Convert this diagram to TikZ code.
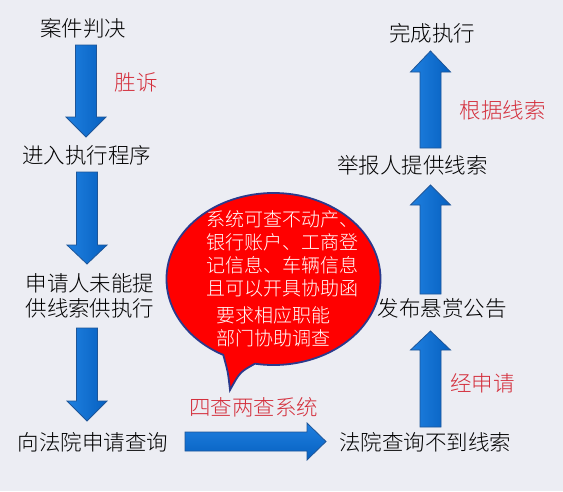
\documentclass[tikz,border=0pt]{standalone}
\usepackage{fontspec}
\usetikzlibrary{calc}
\newfontfamily\cjk{Noto Sans CJK SC Light}
\definecolor{bgc}{HTML}{ECEDF3}
\definecolor{lblred}{HTML}{D42F3C}
\definecolor{arrowA}{HTML}{1F80E0}
\definecolor{arrowB}{HTML}{0660C0}
\definecolor{arrowline}{HTML}{1D5598}
\definecolor{bubred}{HTML}{FF0000}
\definecolor{bubline}{HTML}{2B3A8C}
\tikzset{
  txt/.style={inner sep=0pt, font=\cjk\fontsize{21.5}{25}\selectfont, text=black, align=center},
  lbl/.style={inner sep=0pt, font=\cjk\fontsize{21.5}{25}\selectfont, text=lblred},
  bubtxt/.style={inner sep=0pt, font=\cjk\fontsize{19}{22.8}\selectfont, text=white, align=center},
  vblock/.style={draw=arrowline, line width=0.8pt, left color=arrowA, right color=arrowB},
  hblock/.style={draw=arrowline, line width=0.8pt, top color=arrowA, bottom color=arrowB},
  bubble/.style={draw=bubline, line width=1.8pt, fill=bubred}
}
% vertical block arrow: x, base y, wing y, tip y
\newcommand\myvarrow[4]{%
  \path[vblock] (#1-10.5,#2) -- (#1+10.5,#2) -- (#1+10.5,#3) -- (#1+20,#3) -- (#1,#4)
    -- (#1-20,#3) -- (#1-10.5,#3) -- cycle;}
\begin{document}
\begin{tikzpicture}[x=1pt,y=-1pt]
\useasboundingbox (0,0) rectangle (563,491);
\fill[bgc] (0,0) rectangle (563,491);

% left column
\node[txt] (n1) at (83.5,28) {案件判决};
\node[txt] (n2) at (87,155) {进入执行程序};
\node[txt] (n3) at (90,295.5) {申请人未能提\\供线索供执行};
\node[txt] (n4) at (93,442) {向法院申请查询};
% right column
\node[txt] (n5) at (425,442) {法院查询不到线索};
\node[txt] (n6) at (442,308) {发布悬赏公告};
\node[txt] (n7) at (412.5,165) {举报人提供线索};
\node[txt] (n8) at (432,33) {完成执行};

% red labels
\node[lbl] (l1) at (136,82) {胜诉};
\node[lbl] (l2) at (502.5,110) {根据线索};
\node[lbl] (l3) at (482.5,383) {经申请};
\node[lbl] (l4) at (253.5,407) {四查两查系统};

% block arrows
\myvarrow{86}{45}{117}{137}
\myvarrow{87}{172}{245}{264}
\myvarrow{87}{328}{401}{421}
\path[hblock] (185,432) -- (307,432) -- (307,423) -- (326,441.5) -- (307,460) -- (307,451) -- (185,451) -- cycle;
\myvarrow{430.5}{427}{350}{331}
\myvarrow{430.5}{294}{205}{185}
\myvarrow{430.5}{148}{72}{51}

% speech bubble
\coordinate (bc) at (273.5,279);
\coordinate (tailtip) at (230,390);
\path[bubble] ($(bc)+(118:107 and 86)$) arc[start angle=118, end angle=460, x radius=107, y radius=86]
  .. controls (240,372) .. (tailtip) .. controls (228,372) .. cycle;
\node[bubtxt] (b1) at (282,254) {系统可查不动产、\\银行账户、工商登\\记信息、车辆信息\\且可以开具协助函};
\node[bubtxt] (b2) at (273.5,326.5) {要求相应职能\\部门协助调查};
\end{tikzpicture}
\end{document}
